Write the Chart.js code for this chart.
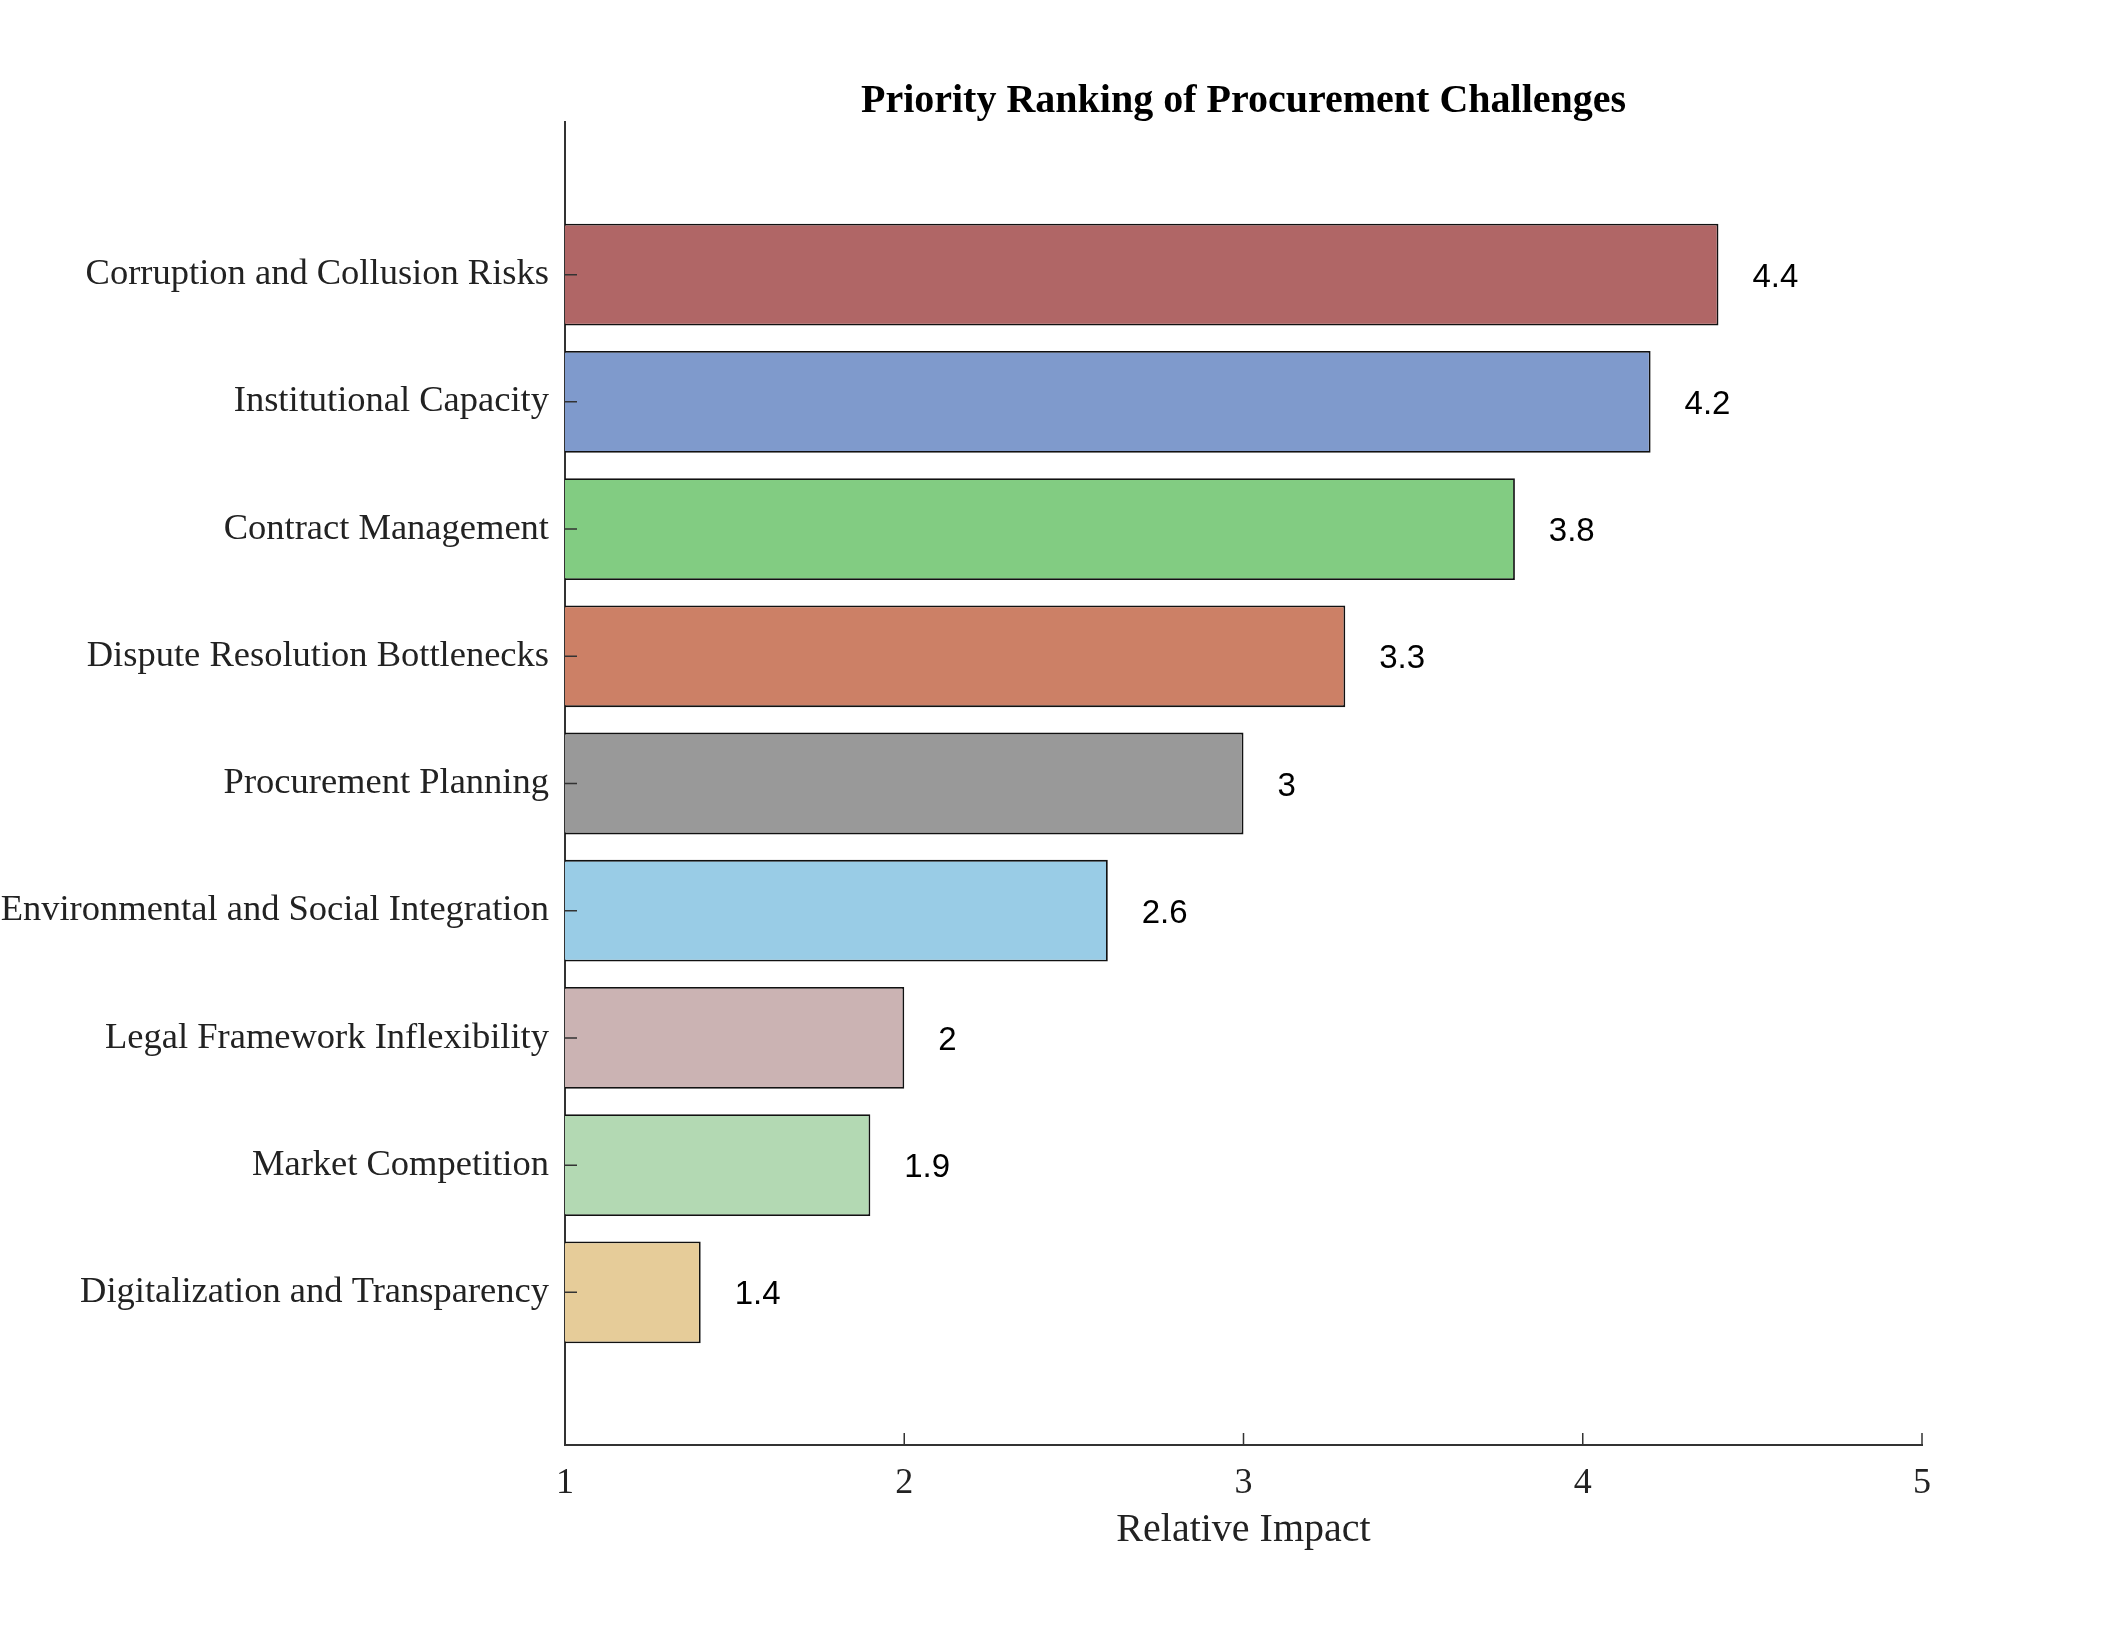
<!DOCTYPE html>
<html>
<head>
  <title>Priority Ranking of Procurement Challenges</title>
  <script src="https://cdn.jsdelivr.net/npm/chart.js"></script>
  <style>
    body { margin: 0; background: #fff; }
    #wrap { width: 2125px; height: 1625px; }
  </style>
</head>
<body>
  <div id="wrap"><canvas id="myChart"></canvas></div>

  <script>
    // Data (top to bottom)
    var categories = [
      'Corruption and Collusion Risks',
      'Institutional Capacity',
      'Contract Management',
      'Dispute Resolution Bottlenecks',
      'Procurement Planning',
      'Environmental and Social Integration',
      'Legal Framework Inflexibility',
      'Market Competition',
      'Digitalization and Transparency'
    ];
    var impact = [4.4, 4.2, 3.8, 3.3, 3.0, 2.6, 2.0, 1.9, 1.4];
    var barColors = ['#b06666', '#7f9acc', '#82cc82', '#cc8066', '#999999',
                     '#99cce6', '#cbb3b3', '#b3d9b3', '#e6cc99'];
    var xTicks = [1, 2, 3, 4, 5];

    var serif = '"Liberation Serif", "Times New Roman", serif';

    // small inward tick marks like the original axes
    var innerTicks = {
      id: 'innerTicks',
      afterDraw: function (chart) {
        var ctx = chart.ctx, a = chart.chartArea;
        var xs = chart.scales.x, ys = chart.scales.y;
        ctx.save();
        ctx.strokeStyle = '#333';
        ctx.lineWidth = 1.5;
        ctx.beginPath();
        xTicks.forEach(function (t) {
          var px = xs.getPixelForValue(t);
          ctx.moveTo(px, a.bottom);
          ctx.lineTo(px, a.bottom - 12);
        });
        categories.forEach(function (c, i) {
          var py = ys.getPixelForValue(i);
          ctx.moveTo(a.left, py);
          ctx.lineTo(a.left + 12, py);
        });
        ctx.stroke();
        ctx.restore();
      }
    };

    // value text to the right of each bar
    var valueLabels = {
      id: 'valueLabels',
      afterDatasetsDraw: function (chart) {
        var ctx = chart.ctx, xs = chart.scales.x;
        var meta = chart.getDatasetMeta(0);
        ctx.save();
        ctx.font = '33px "Liberation Sans", Arial, sans-serif';
        ctx.fillStyle = '#000';
        ctx.textAlign = 'left';
        ctx.textBaseline = 'middle';
        meta.data.forEach(function (bar, i) {
          ctx.fillText(String(impact[i]), xs.getPixelForValue(impact[i] + 0.1), bar.y + 3);
        });
        ctx.restore();
      }
    };

    var ctx = document.getElementById('myChart').getContext('2d');
    var myChart = new Chart(ctx, {
      type: 'bar',
      data: {
        datasets: [{
          data: impact.map(function (v, i) { return { x: v, y: i }; }),
          backgroundColor: barColors,
          borderColor: '#111',
          borderWidth: 1.8,
          base: 1,
          barPercentage: 0.8,
          categoryPercentage: 1.0
        }]
      },
      options: {
        indexAxis: 'y',
        responsive: true,
        maintainAspectRatio: false,
        animation: false,
        layout: { padding: { left: 0, right: 203, top: 0, bottom: 0 } },
        scales: {
          x: {
            type: 'linear',
            min: 1,
            max: 5,
            grid: { display: false, drawTicks: false },
            border: { display: true, color: '#333', width: 2 },
            ticks: {
              stepSize: 1,
              padding: 17,
              color: '#222',
              font: { family: serif, size: 36 }
            },
            title: {
              display: true,
              text: 'Relative Impact',
              color: '#222',
              font: { family: serif, size: 40 },
              padding: { top: 0, bottom: 71 }
            },
            afterFit: function (s) { s.height = 180; }
          },
          y: {
            type: 'linear',
            reverse: true,
            offset: false,
            min: -1.2,
            max: 9.2,
            grid: { display: false, drawTicks: false },
            border: { display: true, color: '#333', width: 2 },
            afterBuildTicks: function (s) {
              s.ticks = categories.map(function (c, i) { return { value: i }; });
            },
            ticks: {
              autoSkip: false,
              padding: 16,
              color: '#222',
              font: { family: serif, size: 36.5 },
              callback: function (v) { return categories[v]; }
            },
            afterFit: function (s) { s.width = 565; }
          }
        },
        plugins: {
          legend: { display: false },
          tooltip: { enabled: false },
          title: {
            display: true,
            fullSize: false,
            text: 'Priority Ranking of Procurement Challenges',
            color: '#000',
            font: { family: serif, size: 40, weight: 'bold', lineHeight: 1.0 },
            padding: { top: 82, bottom: 0 }
          }
        }
      },
      plugins: [innerTicks, valueLabels]
    });
  </script>
</body>
</html>
